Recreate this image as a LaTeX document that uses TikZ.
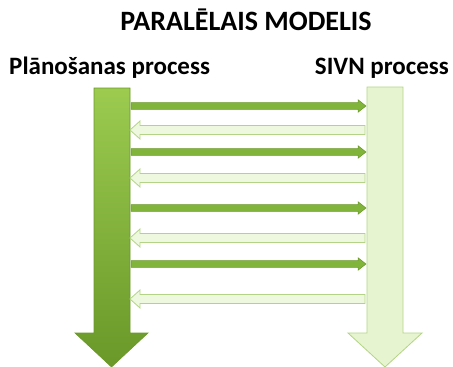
\documentclass[tikz,border=0pt]{standalone}
\usepackage{fontspec}
\setmainfont{Carlito}
\definecolor{gdark}{HTML}{6A9829}
\definecolor{gmid}{HTML}{84B73C}
\definecolor{glight}{HTML}{9CCB50}
\definecolor{pale}{HTML}{EEF8DF}
\definecolor{paleedge}{HTML}{B3D486}
\definecolor{palefill}{HTML}{E6F5CF}
\begin{document}
\begin{tikzpicture}[x=1pt,y=-1pt,
  title/.style={font=\bfseries\fontsize{28}{32}\selectfont, text=black, inner sep=0pt},
  label/.style={font=\bfseries\fontsize{25}{28}\selectfont, text=black, inner sep=0pt},
  bigdark/.style={top color=glight, bottom color=gdark, draw=gdark, line width=0.6pt},
  bigpale/.style={fill=palefill, draw=paleedge, line width=0.8pt},
  darkarrow/.style={fill=gmid!90!gdark, draw=gdark, line width=0.5pt},
  palearrow/.style={fill=pale, draw=paleedge, line width=0.8pt}]
\useasboundingbox (0,0) rectangle (453,367);
% titles
\node[title] (t) at (246,20) {PARALĒLAIS MODELIS};
\node[label, anchor=west] (lp) at (9,68) {Plānošanas process};
\node[label, anchor=east] (rp) at (449,68) {SIVN process};
% big left arrow
\path[bigdark] (94,88) -- (130,88) -- (130,333) -- (148,333) -- (111.5,367) -- (75,333) -- (94,333) -- cycle;
% big right arrow
\path[bigpale] (367,87) -- (403,87) -- (403,333) -- (422,333) -- (385,367) -- (348,333) -- (367,333) -- cycle;
% dark right-pointing arrows
\foreach \yy in {106,152,208,264}{
  \path[darkarrow] (131,\yy-3.3) -- (358,\yy-3.3) -- (358,\yy-6.3) -- (366,\yy) -- (358,\yy+6.3) -- (358,\yy+3.3) -- (131,\yy+3.3) -- cycle;
}
% pale left-pointing arrows
\foreach \yy in {130,178,238,299}{
  \path[palearrow] (365,\yy-4.5) -- (140,\yy-4.5) -- (140,\yy-9) -- (130,\yy) -- (140,\yy+9) -- (140,\yy+4.5) -- (365,\yy+4.5) -- cycle;
}
\end{tikzpicture}
\end{document}
